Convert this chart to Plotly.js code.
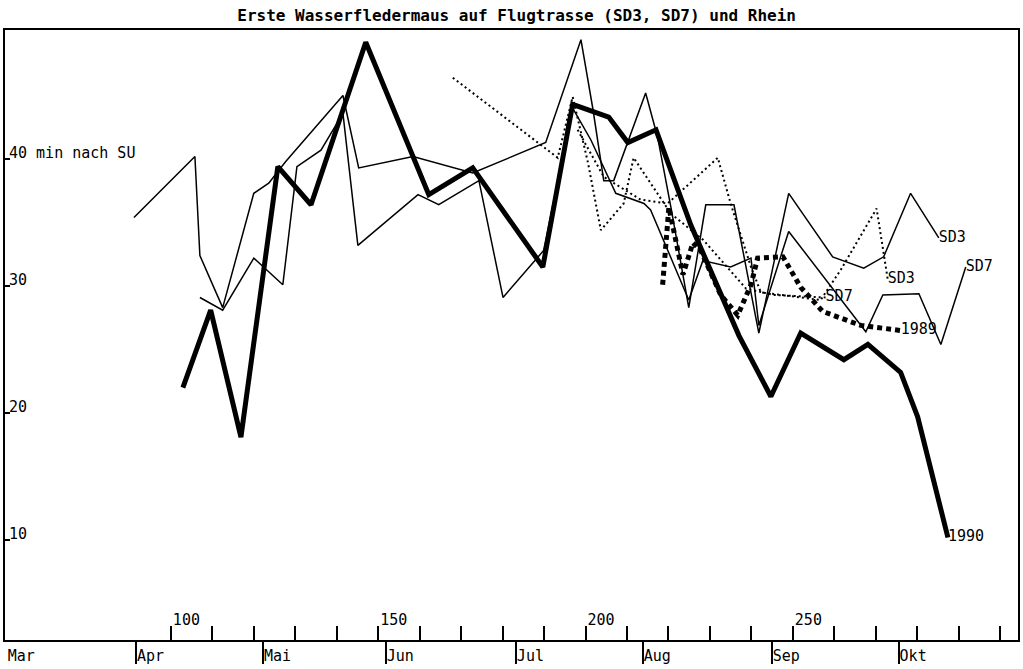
<!DOCTYPE html>
<html>
<head>
<meta charset="utf-8">
<script src="https://cdn.plot.ly/plotly-3.0.1.min.js"></script>
<style>
  body { margin: 0; background: #fff; }
  #chart { width: 1023px; height: 669px; }
</style>
</head>
<body>
<div id="chart"></div>
<script>
// day of year / minutes after sunset (SU)
const days1990 = [102.9, 109.6, 116.9, 125.8, 133.8, 147.0, 162.2, 172.8, 189.7, 196.9, 205.6, 210.2, 217.0, 225.4, 237.0, 244.7, 251.9, 262.3, 268.1, 276.0, 280.1, 287.4];
const min1990 = [22.0, 28.1, 18.1, 39.4, 36.4, 49.2, 37.2, 39.3, 31.5, 44.3, 43.3, 41.3, 42.3, 34.8, 26.1, 21.3, 26.3, 24.2, 25.4, 23.2, 19.7, 10.2];

const sd3Days = [91.1, 105.8, 107.0, 112.5, 120.0, 123.6, 127.7, 141.5, 145.3, 158.4, 172.8, 190.4, 198.9, 201.8, 204.4, 206.8, 214.5, 217.4, 220.6, 224.9, 229.0, 235.8, 241.8, 249.0, 259.6, 267.1, 271.9, 278.4, 285.2];
const sd3Min = [35.4, 40.2, 32.4, 28.3, 37.3, 38.1, 39.8, 45.0, 39.3, 40.2, 38.9, 41.3, 49.4, 43.9, 38.3, 38.3, 45.2, 41.7, 36.2, 28.3, 36.4, 36.4, 26.3, 37.3, 32.3, 31.4, 32.3, 37.3, 33.8];

const sd7Days = [107.0, 112.5, 120.0, 127.0, 130.4, 136.2, 141.5, 145.1, 159.6, 164.6, 174.3, 180.1, 189.9, 196.9, 201.3, 207.3, 214.1, 215.7, 224.9, 228.3, 235.0, 239.9, 241.8, 249.0, 267.6, 271.7, 280.4, 285.7, 291.7];
const sd7Min = [29.1, 28.1, 32.2, 30.1, 39.4, 40.7, 43.6, 33.2, 37.2, 36.4, 38.3, 29.1, 32.8, 44.0, 41.5, 37.3, 36.5, 36.0, 28.9, 32.0, 31.5, 32.2, 26.9, 34.3, 26.4, 29.3, 29.4, 25.4, 31.5];

const sd7DotDays = [168.0, 193.3, 196.9, 200.6, 203.7, 209.2, 211.6, 220.6, 228.5, 238.7, 245.4, 257.9];
const sd7DotMin = [46.4, 40.1, 44.9, 39.7, 34.4, 36.5, 40.1, 35.7, 33.6, 29.8, 29.3, 29.1];

const sd3DotDays = [198.1, 204.4, 213.3, 219.8, 231.9, 235.0, 239.9, 242.3, 251.9, 256.7, 261.6, 270.2, 272.9];
const sd3DotMin = [42.3, 38.6, 36.8, 36.5, 40.1, 36.5, 31.5, 29.5, 29.1, 28.9, 31.3, 36.1, 30.5];

const days1989 = [218.6, 220.1, 223.5, 225.9, 227.8, 232.6, 236.7, 239.9, 241.5, 247.6, 251.9, 257.2, 266.4, 276.0];
const min1989 = [30.1, 36.2, 30.9, 33.4, 32.8, 29.3, 27.7, 30.1, 32.2, 32.3, 29.9, 28.0, 26.9, 26.5];

const tickDays = [70, 80, 90, 100, 110, 120, 130, 140, 150, 160, 170, 180, 190, 200, 210, 220, 230, 240, 250, 260, 270, 280, 290, 300];
const numberedDays = [100, 150, 200, 250];
const monthStarts = [60.4, 91.6, 122.2, 151.8, 183.2, 213.8, 244.9, 275.5];
const monthNames = ["Mar", "Apr", "Mai", "Jun", "Jul", "Aug", "Sep", "Okt"];
const yTicks = [10, 20, 30, 40];
const yLabels = ["10", "20", "30", "40 min nach SU"];

const mono = "DejaVu Sans Mono, Liberation Mono, monospace";
const xRange = [60.0, 304.3];

function endLabel(n, label) {
  var t = new Array(n).fill("");
  t[n - 1] = label;
  return t;
}

function series(x, y, label, width, dash, axis) {
  return {
    x: x,
    y: y,
    xaxis: axis || "x",
    type: "scatter",
    mode: "lines+text",
    line: { color: "#000", width: width, dash: dash },
    text: endLabel(x.length, label),
    textposition: "middle right",
    textfont: { family: mono, size: 15, color: "#000" },
    cliponaxis: false,
    hoverinfo: "x+y"
  };
}

var data = [
  series(sd3Days, sd3Min, "SD3", 1.5, "solid"),
  series(sd7Days, sd7Min, "SD7", 1.5, "solid"),
  series(sd7DotDays, sd7DotMin, "SD7", 2, "2px,3px"),
  series(sd3DotDays, sd3DotMin, "SD3", 2, "2px,3px"),
  series(days1989, min1989, "1989", 5, "5px,4px", "x2"),
  series(days1990, min1990, "1990", 5, "solid")
];

var layout = {
  width: 1023,
  height: 669,
  margin: { l: 5, r: 5, t: 30, b: 29 },
  paper_bgcolor: "#fff",
  plot_bgcolor: "#fff",
  showlegend: false,
  hovermode: "closest",
  font: { family: mono, size: 15, color: "#000" },
  title: {
    text: "Erste Wasserfledermaus auf Flugtrasse (SD3, SD7) und Rhein",
    font: { family: mono, size: 16, color: "#000", weight: "bold" },
    x: 0.505,
    xanchor: "center",
    y: 0.985,
    yanchor: "top"
  },
  xaxis: {
    range: xRange,
    showgrid: false,
    zeroline: false,
    showline: true,
    mirror: true,
    linecolor: "#000",
    linewidth: 2,
    ticks: "inside",
    ticklen: 14,
    tickwidth: 2,
    tickcolor: "#000",
    tickmode: "array",
    tickvals: tickDays,
    ticktext: tickDays.map((d) => numberedDays.includes(d) ? String(d) : ""),
    ticklabelposition: "inside right",
    ticklabelstandoff: 9,
    tickfont: { family: mono, size: 15, color: "#000" }
  },
  xaxis2: {
    range: xRange,
    overlaying: "x",
    anchor: "y",
    side: "bottom",
    showgrid: false,
    zeroline: false,
    showline: false,
    ticks: "outside",
    ticklen: 23,
    tickwidth: 2,
    tickcolor: "#000",
    tickmode: "array",
    tickvals: monthStarts,
    ticktext: monthNames,
    ticklabelposition: "outside right",
    ticklabeloverflow: "allow",
    ticklabelstandoff: 2,
    tickfont: { family: mono, size: 15, color: "#000" }
  },
  yaxis: {
    range: [2.13, 50.16],
    showgrid: false,
    zeroline: false,
    showline: true,
    mirror: true,
    linecolor: "#000",
    linewidth: 2,
    ticks: "inside",
    ticklen: 5,
    tickwidth: 1.5,
    tickcolor: "#000",
    tickmode: "array",
    tickvals: yTicks,
    ticktext: yLabels,
    ticklabelposition: "inside top",
    ticklabelshift: 5,
    ticklabelstandoff: 3,
    tickfont: { family: mono, size: 15, color: "#000" }
  }
};

Plotly.newPlot("chart", data, layout, { displayModeBar: false, staticPlot: true }).then((gd) => {
  // plotly hides the "Mar" label that sits on the y axis line; show it again
  gd.querySelectorAll(".x2tick text").forEach((t) => t.style.removeProperty("display"));
});
</script>
</body>
</html>
